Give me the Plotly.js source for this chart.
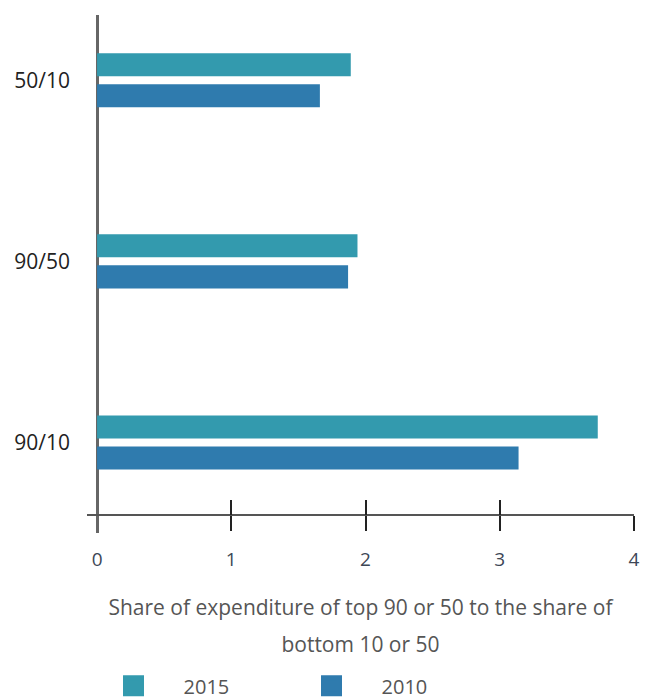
<!DOCTYPE html>
<html>
<head>
<meta charset="utf-8">
<script src="https://cdn.plot.ly/plotly-3.0.1.min.js"></script>
<style>html,body{margin:0;padding:0;background:#fff;}#chart{width:646px;height:699px;}</style>
</head>
<body>
<div id="chart"></div>
<script>
const categories = ['50/10', '90/50', '90/10'];
const series2015 = [1.89, 1.94, 3.73];
const series2010 = [1.66, 1.87, 3.14];
const seriesNames = ['2015', '2010'];
const seriesColors = ['#339AAE', '#2F7BAE'];
const xTickVals = [0, 1, 2, 3, 4];
const xMarkVals = [1, 2, 3, 4];
const xTitleLines = ['Share of expenditure of top 90 or 50 to the share of', 'bottom 10 or 50'];

const FONT = 'Open Sans, sans-serif';
const xRange = [-0.075, 4];
const axisPos = 0.0347;

const traces = [
  {type: 'bar', orientation: 'h', y: categories, x: series2015, name: seriesNames[0],
   marker: {color: seriesColors[0]}, showlegend: false, hoverinfo: 'x+y'},
  {type: 'bar', orientation: 'h', y: categories, x: series2010, name: seriesNames[1],
   marker: {color: seriesColors[1]}, showlegend: false, hoverinfo: 'x+y'},
  {type: 'scatter', mode: 'markers', x: [null], y: [null], xaxis: 'x2', name: seriesNames[0],
   marker: {symbol: 'square', size: 16, color: seriesColors[0], line: {width: 5, color: seriesColors[0]}}},
  {type: 'scatter', mode: 'markers', x: [null], y: [null], xaxis: 'x3', name: seriesNames[1],
   marker: {symbol: 'square', size: 16, color: seriesColors[1], line: {width: 5, color: seriesColors[1]}}}
];

const layout = {
  width: 646, height: 699,
  margin: {l: 87, r: 12, t: 15, b: 166},
  paper_bgcolor: '#fff', plot_bgcolor: '#fff',
  font: {family: FONT, color: '#222'},
  barmode: 'group', bargap: 0.657, bargroupgap: 0.258,
  showlegend: true,
  xaxis: {
    range: xRange, anchor: 'free', position: axisPos,
    tickmode: 'array', tickvals: xTickVals, ticktext: xTickVals.map(String),
    ticks: '', showgrid: false,
    showline: true, linecolor: '#555', linewidth: 2,
    zeroline: true, zerolinecolor: '#666', zerolinewidth: 3,
    ticklabelstandoff: 27,
    tickfont: {family: FONT, size: 19, color: '#3d4756'},
    title: {
      text: '<span style="font-size:21px">' + xTitleLines.join('<br>') + '</span>',
      font: {family: FONT, size: 28, color: '#555'},
      standoff: 24
    }
  },
  xaxis2: {
    range: xRange, overlaying: 'x', anchor: 'free', position: axisPos,
    tickmode: 'array', tickvals: xMarkVals, showticklabels: false,
    ticks: 'outside', ticklen: 15, tickwidth: 2, tickcolor: '#222',
    showgrid: false, showline: false, zeroline: false
  },
  xaxis3: {
    range: xRange, overlaying: 'x', anchor: 'free', position: axisPos,
    tickmode: 'array', tickvals: xMarkVals, showticklabels: false,
    ticks: 'inside', ticklen: 15, tickwidth: 2, tickcolor: '#222',
    showgrid: false, showline: false, zeroline: false
  },
  yaxis: {
    domain: [0, 1], anchor: 'x',
    range: [2.50, -0.36],
    type: 'category',
    ticks: '', showgrid: false, showline: false, zeroline: false,
    ticklabelstandoff: 16,
    tickfont: {family: FONT, size: 21, color: '#222'}
  },
  legend: {
    orientation: 'h', xref: 'container', yref: 'container',
    x: 0.1293, y: 0.019, xanchor: 'left', yanchor: 'middle',
    itemwidth: 90, entrywidth: 93, entrywidthmode: 'pixels',
    font: {family: FONT, size: 20, color: '#555'},
    itemclick: false, itemdoubleclick: false
  }
};

Plotly.newPlot('chart', traces, layout, {displayModeBar: false, staticPlot: true});
</script>
</body>
</html>
